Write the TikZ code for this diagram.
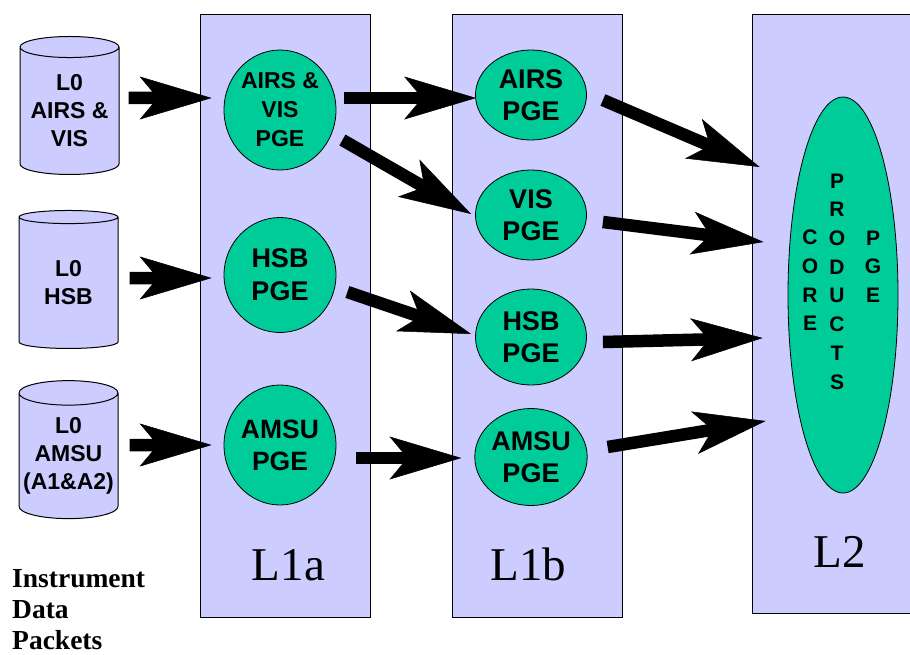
\documentclass[tikz,border=0pt]{standalone}
\usepackage{fontspec}
\setmainfont{Liberation Serif}
\setsansfont{Liberation Sans}
\usepackage{tikz}
\usetikzlibrary{arrows.meta}
\usetikzlibrary{shapes}
\usetikzlibrary{positioning}
\definecolor{lav}{HTML}{CCCCFF}
\definecolor{pgegreen}{HTML}{00CC99}
\tikzstyle{panel}=[draw,fill=lav,line width=0.8pt,minimum width=170pt,inner sep=0pt]
\tikzstyle{level}=[anchor=base,inner sep=0pt,font=\fontsize{47}{47}\selectfont]
\tikzstyle{pge}=[draw,fill=pgegreen,ellipse,line width=0.8pt,inner sep=0pt,align=center]
\tikzstyle{store}=[draw,fill=lav,cylinder,shape border rotate=90,aspect=0.27,line width=1pt,minimum width=99pt,minimum height=138pt,inner sep=0pt,align=center,font=\sffamily\bfseries\fontsize{23}{28}\selectfont]
\tikzstyle{flow}=[line width=12.5pt,-{Stealth[length=72pt,width=43pt,inset=18pt,line width=0.5pt]}]
\newcommand{\pgefont}[2]{\sffamily\bfseries\fontsize{#1}{#2}\selectfont}

\begin{document}
\begin{tikzpicture}[x=1pt,y=-1pt]
\useasboundingbox (0,0) rectangle (910,654);
\clip (0,0) rectangle (910,654);

% processing levels
\node[panel,minimum height=603pt] (l1a) at (285,315.5) {};
\node[panel,minimum height=603pt] (l1b) at (537,315.5) {};
\node[panel,minimum width=180pt,minimum height=599pt] (l2) at (842,313.5) {};
\node[level] (l1alab) at (288.5,580) {L1a};
\node[level] (l1blab) at (528.5,580) {L1b};
\node[level] (l2lab) at (840,567) {L2};

% level 0 data
\node[store] (l0a) at (69.5,111) {L0\\AIRS \&\\VIS};
\node[store] (l0h) at (68.5,283) {L0\\HSB};
\node[store] (l0m) at (68.5,456) {L0\\AMSU\\(A1\&A2)};
\node[anchor=north west,inner sep=0pt,align=left,font=\bfseries\fontsize{27.5}{31}\selectfont] (idp) at (12,569) {Instrument\\Data\\Packets};

% L1a
\node[pge,minimum width=112pt,minimum height=120pt,font=\pgefont{23}{29}] (airsvis) at (280,110) {AIRS \&\\VIS\\PGE};
\node[pge,minimum width=112pt,minimum height=115pt,font=\pgefont{27}{33}] (hsba) at (280,275) {HSB\\PGE};
\node[pge,minimum width=112pt,minimum height=120pt,font=\pgefont{26.5}{32}] (amsua) at (280,445) {AMSU\\PGE};

% L1b
\node[pge,minimum width=111pt,minimum height=90pt,font=\pgefont{27}{32}] (airs) at (531,95) {AIRS\\PGE};
\node[pge,minimum width=111pt,minimum height=90pt,font=\pgefont{27}{32}] (vis) at (531,215) {VIS\\PGE};
\node[pge,minimum width=111pt,minimum height=96pt,font=\pgefont{27}{32}] (hsbb) at (531,337) {HSB\\PGE};
\node[pge,minimum width=111pt,minimum height=97pt,font=\pgefont{27}{32}] (amsub) at (531,457) {AMSU\\PGE};

% L2
\node[pge,minimum width=110pt,minimum height=396pt] (core) at (843,295) {};
\node[inner sep=0pt,align=center,font=\pgefont{21}{28.7}] (corew) at (810,280.5) {C\\O\\R\\E};
\node[inner sep=0pt,align=center,font=\pgefont{21}{28.7}] (prodw) at (837,281.5) {P\\R\\O\\D\\U\\C\\T\\S};
\node[inner sep=0pt,align=center,font=\pgefont{21}{28.7}] (pgew) at (873,266.5) {P\\G\\E};

\draw[flow] ([shift={(9,-13)}]l0a.east) -- ([shift={(-12,-12)}]airsvis.west);
\draw[flow] ([shift={(11,-5)}]l0h.east) -- ([shift={(-12,3)}]hsba.west);
\draw[flow] ([shift={(11,-11)}]l0m.east) -- ([shift={(-12,0)}]amsua.west);

\draw[flow] ([shift={(8,-12)}]airsvis.east) -- ([shift={(1,3)}]airs.west);
\draw[flow] ([shift={(6,30)}]airsvis.east) -- ([shift={(-4,-1)}]vis.west);
\draw[flow] ([shift={(11,17)}]hsba.east) -- ([shift={(-4,-3)}]hsbb.west);
\draw[flow] ([shift={(20,13)}]amsua.east) -- ([shift={(-13,1)}]amsub.west);

\draw[flow] ([shift={(16,5)}]airs.east) -- ([shift={(-28,-128)}]core.west);
\draw[flow] ([shift={(16,7)}]vis.east) -- ([shift={(-24,-53)}]core.west);
\draw[flow] ([shift={(16,5)}]hsbb.east) -- ([shift={(-25,43)}]core.west);
\draw[flow] ([shift={(20,-10)}]amsub.east) -- ([shift={(-22,126)}]core.west);
\end{tikzpicture}
\end{document}
